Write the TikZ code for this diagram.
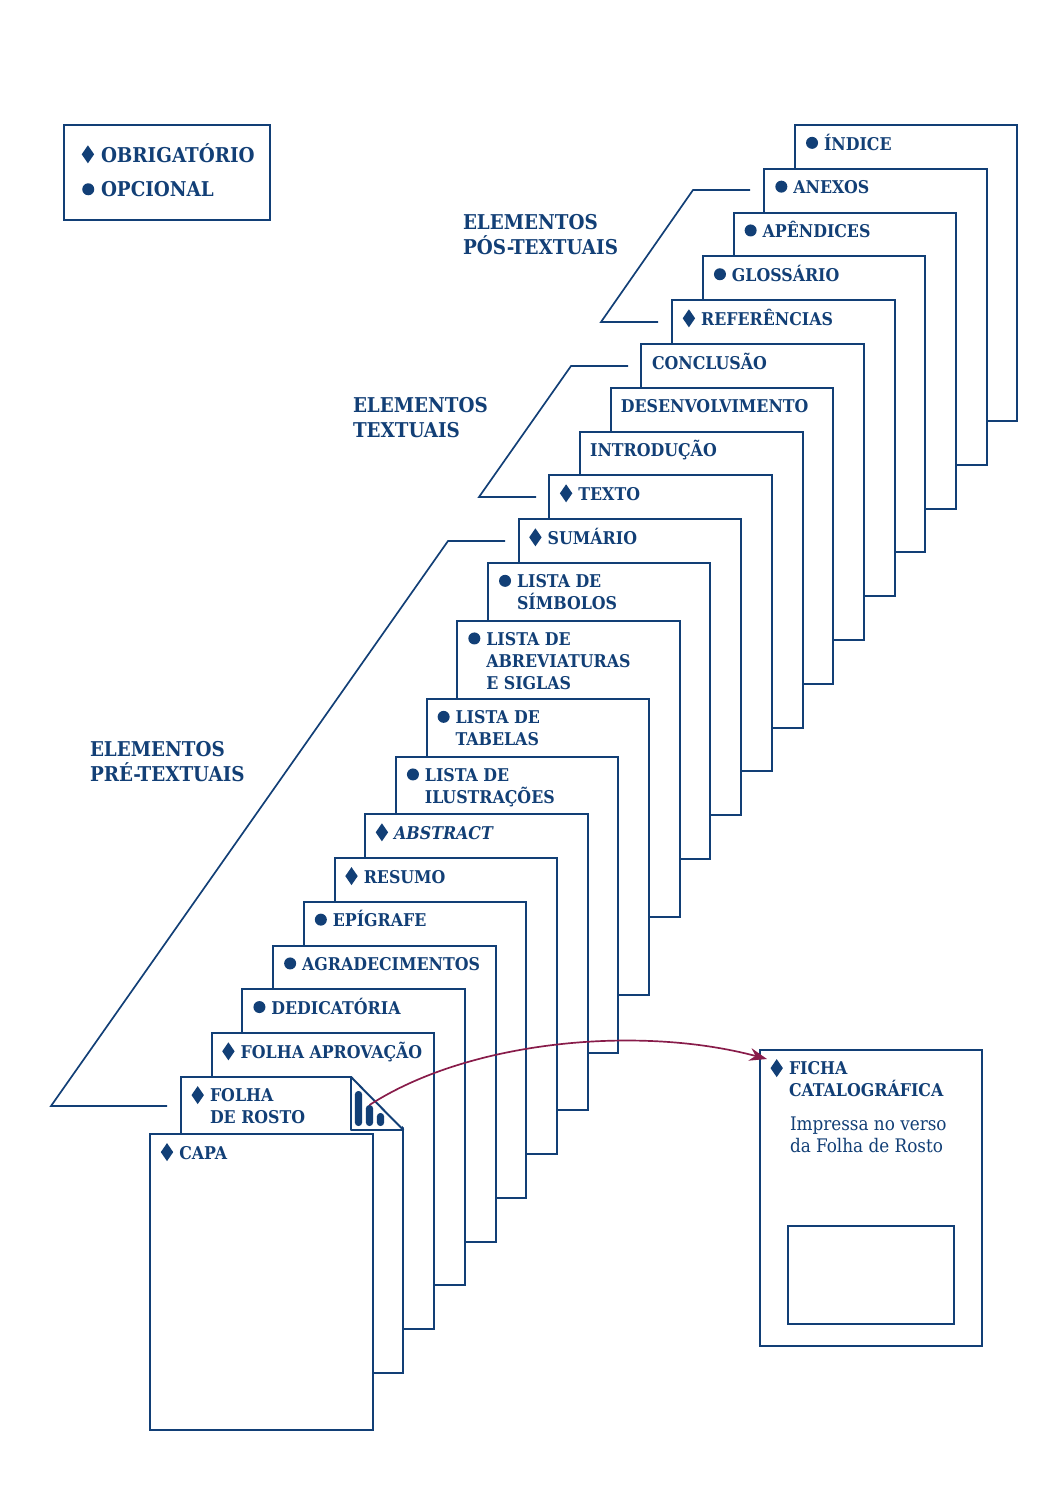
\documentclass[tikz,border=0pt]{standalone}
\usepackage{fontspec}
\setmainfont{DejaVu Serif Condensed}
\usepackage{tikz}
\usetikzlibrary{positioning,shapes.geometric,arrows.meta}
\definecolor{azulfolha}{RGB}{18,63,118}
\definecolor{vinho}{RGB}{136,28,74}

\tikzset{
  pagina/.style={draw=azulfolha,fill=white,line width=1.4pt,outer sep=0pt,inner sep=0pt,anchor=north west,minimum width=5.56cm,minimum height=7.4cm},
  caixa/.style={draw=azulfolha,line width=1.4pt,outer sep=0pt,inner sep=0pt,anchor=north west},
  obrig/.style={diamond,fill=azulfolha,inner sep=0pt,outer sep=0pt,minimum width=0.31cm,minimum height=0.45cm},
  opc/.style={circle,fill=azulfolha,inner sep=0pt,outer sep=0pt,minimum size=0.3cm},
  rotulo/.style={text=azulfolha,font=\fontsize{12.5pt}{15.6pt}\selectfont\bfseries,align=left,inner sep=0pt,outer sep=0pt,execute at begin node={\rule{0pt}{0.5cm}}},
  titulo/.style={text=azulfolha,font=\fontsize{14.5pt}{17.7pt}\selectfont\bfseries,align=left,inner sep=0pt,outer sep=0pt,execute at begin node={\rule{0pt}{0.6cm}}},
  nota/.style={text=azulfolha,font=\fontsize{13.3pt}{15.6pt}\selectfont,align=left,inner sep=0pt,outer sep=0pt},
  chave/.style={draw=azulfolha,line width=1.2pt},
  barra/.style={fill=azulfolha,rounded corners=0.085cm,inner sep=0pt,outer sep=0pt,minimum width=0.18cm,anchor=south},
}

\begin{document}
\begin{tikzpicture}[x=0.025cm,y=-0.025cm]
  \useasboundingbox (0,0) rectangle (1060,1500);
  % legenda
  \node[caixa,minimum width=5.15cm,minimum height=2.375cm] (legenda) at (64,125) {};
  \node[obrig,below right=0.62cm and 0.52cm of legenda.north west] (legobrig) {};
  \node[opc,below right=1.5cm and 0.5cm of legenda.north west] (legopc) {};
  \node[titulo,below right=0.345cm and 0.925cm of legenda.north west] (legobrigt) {OBRIGATÓRIO};
  \node[titulo,below right=1.175cm and 0.925cm of legenda.north west] (legopct) {OPCIONAL};
  % grupos
  \node[titulo,anchor=north west] (pos) at (463,214) {ELEMENTOS\\PÓS-TEXTUAIS};
  \node[titulo,anchor=north west] (textuais) at (353,397) {ELEMENTOS\\TEXTUAIS};
  \node[titulo,anchor=north west] (pre) at (90,741) {ELEMENTOS\\PRÉ-TEXTUAIS};
  \coordinate (posa) at (750,190);
  \coordinate (posb) at (693,190);
  \coordinate (posc) at (601,322);
  \coordinate (posd) at (658,322);
  \coordinate (texa) at (628,366);
  \coordinate (texb) at (571,366);
  \coordinate (texc) at (479,497);
  \coordinate (texd) at (536,497);
  \coordinate (prea) at (505,541);
  \coordinate (preb) at (448,541);
  \coordinate (prec) at (51,1106);
  \coordinate (pred) at (167,1106);
  \draw[chave] (posa) -- (posb) -- (posc) -- (posd);
  \draw[chave] (texa) -- (texb) -- (texc) -- (texd);
  \draw[chave] (prea) -- (preb) -- (prec) -- (pred);
  % folhas, de tras para a frente
  \node[pagina] (indice) at (795,125) {};
  \node[opc,below right=0.34cm and 0.32cm of indice.north west] (indicem) {};
  \node[rotulo,below right=0.125cm and 0.725cm of indice.north west] (indicet) {ÍNDICE};
  \node[pagina] (anexos) at (764.3,168.8) {};
  \node[opc,below right=0.34cm and 0.32cm of anexos.north west] (anexosm) {};
  \node[rotulo,below right=0.125cm and 0.725cm of anexos.north west] (anexost) {ANEXOS};
  \node[pagina] (apend) at (733.6,212.6) {};
  \node[opc,below right=0.34cm and 0.32cm of apend.north west] (apendm) {};
  \node[rotulo,below right=0.125cm and 0.725cm of apend.north west] (apendt) {APÊNDICES};
  \node[pagina] (gloss) at (702.9,256.4) {};
  \node[opc,below right=0.34cm and 0.32cm of gloss.north west] (glossm) {};
  \node[rotulo,below right=0.125cm and 0.725cm of gloss.north west] (glosst) {GLOSSÁRIO};
  \node[pagina] (refer) at (672.2,300.2) {};
  \node[obrig,below right=0.34cm and 0.34cm of refer.north west] (referm) {};
  \node[rotulo,below right=0.125cm and 0.725cm of refer.north west] (refert) {REFERÊNCIAS};
  \node[pagina] (concl) at (641.2,344) {};
  \node[rotulo,below right=0.125cm and 0.27cm of concl.north west] (conclt) {CONCLUSÃO};
  \node[pagina] (desenv) at (610.8,387.8) {};
  \node[rotulo,below right=0.125cm and 0.25cm of desenv.north west] (desenvt) {DESENVOLVIMENTO};
  \node[pagina] (intro) at (580.1,431.6) {};
  \node[rotulo,below right=0.125cm and 0.25cm of intro.north west] (introt) {INTRODUÇÃO};
  \node[pagina] (texto) at (549.4,475.2) {};
  \node[obrig,below right=0.34cm and 0.34cm of texto.north west] (textom) {};
  \node[rotulo,below right=0.125cm and 0.725cm of texto.north west] (textot) {TEXTO};
  \node[pagina] (sumario) at (518.7,519.2) {};
  \node[obrig,below right=0.34cm and 0.34cm of sumario.north west] (sumariom) {};
  \node[rotulo,below right=0.125cm and 0.725cm of sumario.north west] (sumariot) {SUMÁRIO};
  \node[pagina] (simbolos) at (488,563) {};
  \node[opc,below right=0.34cm and 0.32cm of simbolos.north west] (simbolosm) {};
  \node[rotulo,below right=0.29cm and 0.725cm of simbolos.north west] (simbolost) {LISTA DE\\SÍMBOLOS};
  \node[pagina] (abrev) at (457.3,620.6) {};
  \node[opc,below right=0.34cm and 0.32cm of abrev.north west] (abrevm) {};
  \node[rotulo,below right=0.29cm and 0.725cm of abrev.north west] (abrevt) {LISTA DE\\ABREVIATURAS\\E SIGLAS};
  \node[pagina] (tabelas) at (426.6,699) {};
  \node[opc,below right=0.34cm and 0.32cm of tabelas.north west] (tabelasm) {};
  \node[rotulo,below right=0.29cm and 0.725cm of tabelas.north west] (tabelast) {LISTA DE\\TABELAS};
  \node[pagina] (ilustr) at (395.9,756.6) {};
  \node[opc,below right=0.34cm and 0.32cm of ilustr.north west] (ilustrm) {};
  \node[rotulo,below right=0.29cm and 0.725cm of ilustr.north west] (ilustrt) {LISTA DE\\ILUSTRAÇÕES};
  \node[pagina] (abstract) at (365.2,814.2) {};
  \node[obrig,below right=0.34cm and 0.34cm of abstract.north west] (abstractm) {};
  \node[rotulo,below right=0.125cm and 0.725cm of abstract.north west] (abstractt) {\itshape ABSTRACT};
  \node[pagina] (resumo) at (334.8,858) {};
  \node[obrig,below right=0.34cm and 0.34cm of resumo.north west] (resumom) {};
  \node[rotulo,below right=0.125cm and 0.725cm of resumo.north west] (resumot) {RESUMO};
  \node[pagina] (epigrafe) at (303.8,901.8) {};
  \node[opc,below right=0.34cm and 0.32cm of epigrafe.north west] (epigrafem) {};
  \node[rotulo,below right=0.125cm and 0.725cm of epigrafe.north west] (epigrafet) {EPÍGRAFE};
  \node[pagina] (agrad) at (273.1,945.6) {};
  \node[opc,below right=0.34cm and 0.32cm of agrad.north west] (agradm) {};
  \node[rotulo,below right=0.125cm and 0.725cm of agrad.north west] (agradt) {AGRADECIMENTOS};
  \node[pagina] (dedic) at (242.4,989.2) {};
  \node[opc,below right=0.34cm and 0.32cm of dedic.north west] (dedicm) {};
  \node[rotulo,below right=0.125cm and 0.725cm of dedic.north west] (dedict) {DEDICATÓRIA};
  \node[pagina] (aprov) at (211.7,1033.2) {};
  \node[obrig,below right=0.34cm and 0.34cm of aprov.north west] (aprovm) {};
  \node[rotulo,below right=0.125cm and 0.725cm of aprov.north west] (aprovt) {FOLHA APROVAÇÃO};
  \node[pagina] (rosto) at (181,1077) {};
  \node[obrig,below right=0.34cm and 0.34cm of rosto.north west] (rostom) {};
  \node[rotulo,below right=0.29cm and 0.725cm of rosto.north west] (rostot) {FOLHA\\DE ROSTO};
  % canto dobrado
  \coordinate (dobraa) at (351,1077);
  \coordinate (dobrab) at (351,1130);
  \coordinate (dobrac) at (403.4,1130);
  \fill[white] (350.5,1075) -- (406,1075) -- (406,1129.5) -- cycle;
  \draw[caixa,fill=white,line join=bevel] (dobraa) -- (dobrab) -- (dobrac) -- cycle;
  \node[barra,minimum height=0.875cm] (icona) at (358.5,1126) {};
  \node[barra,minimum height=0.525cm] (iconb) at (369.5,1126) {};
  \node[barra,minimum height=0.325cm] (iconc) at (380.5,1126) {};
  \node[pagina] (capa) at (150.3,1134) {};
  \node[obrig,below right=0.34cm and 0.34cm of capa.north west] (capam) {};
  \node[rotulo,below right=0.125cm and 0.725cm of capa.north west] (capat) {CAPA};
  % ficha
  \node[pagina] (ficha) at (760,1050) {};
  \node[obrig,below right=0.34cm and 0.34cm of ficha.north west] (ficham) {};
  \node[rotulo,below right=0.29cm and 0.725cm of ficha.north west] (fichat) {FICHA\\CATALOGRÁFICA};
  \node[nota,below right=1.675cm and 0.75cm of ficha.north west] (fichan) {Impressa no verso\\da Folha de Rosto};
  \node[caixa,minimum width=4.15cm,minimum height=2.45cm] (quadro) at (788,1226) {};
  \coordinate (fichaseta) at (767,1059);
  \draw[-{Stealth[length=0.44cm,width=0.32cm]},vinho,line width=1.2pt] (iconb.north) .. controls (470,1040) and (640,1025) .. (fichaseta);
\end{tikzpicture}
\end{document}
